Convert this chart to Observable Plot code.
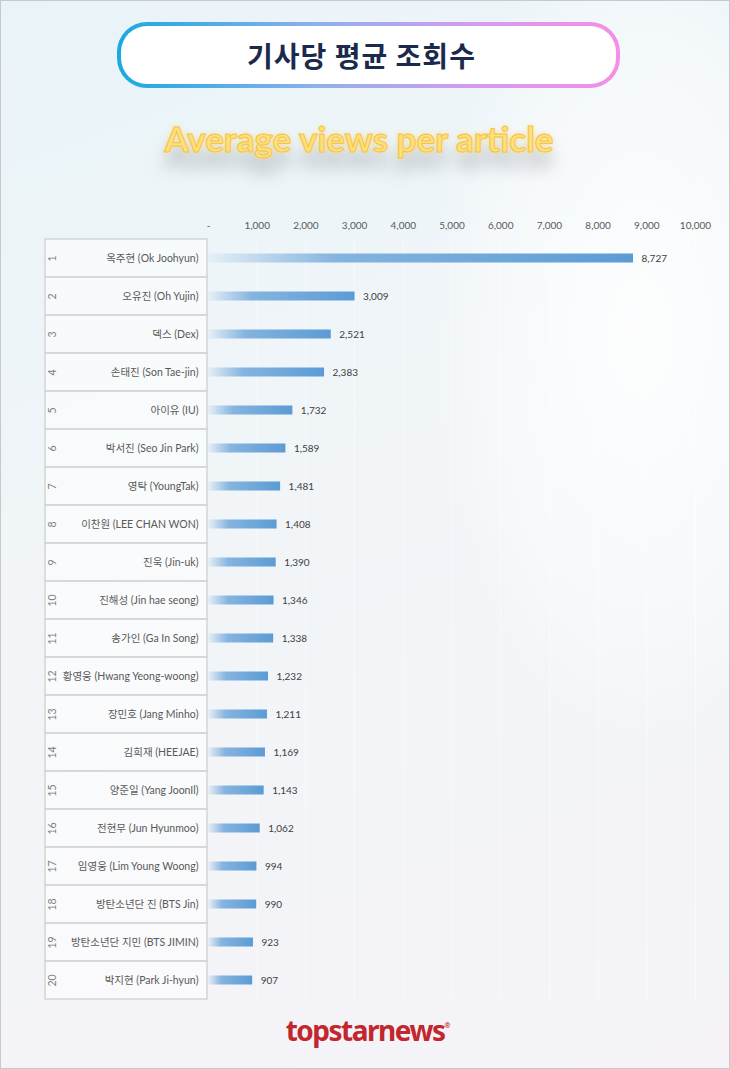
<!DOCTYPE html>
<html>
<head>
<meta charset="utf-8">
<script src="https://cdn.jsdelivr.net/npm/d3@7"></script>
<script src="https://cdn.jsdelivr.net/npm/@observablehq/plot@0.6"></script>
<style>
  html, body { margin: 0; padding: 0; }
  body {
    width: 730px; height: 1069px; position: relative; overflow: hidden;
    background: linear-gradient(160deg, #e9f4f8 0%, #f1f5f8 45%, #f5f3f8 100%);
    font-family: Lato, "Noto Sans CJK KR", sans-serif;
  }
  #frame { position: absolute; left: 0; top: 0; width: 728px; height: 1067px; border: 1px solid #c9c9c9; pointer-events: none; }
  #glow { position: absolute; left: 430px; top: -80px; width: 420px; height: 820px; border-radius: 50%;
    background: radial-gradient(ellipse at center, rgba(255,255,255,0.85) 0%, rgba(255,255,255,0.4) 50%, rgba(255,255,255,0) 72%); }
  #titlebox { position: absolute; left: 117px; top: 22px; width: 503px; height: 66px; border-radius: 30px;
    padding: 4px; box-sizing: border-box;
    background: linear-gradient(90deg, #1aa9e0 0%, #8fb0ec 40%, #d29cf0 70%, #f58ee6 100%); }
  #titlebox div { width: 100%; height: 100%; border-radius: 26px; background: #fff;
    display: flex; align-items: center; justify-content: center; padding-right: 14px; box-sizing: border-box;
    font-family: "Noto Sans CJK KR", sans-serif; font-weight: 700; font-size: 28px; color: #1b2a4c; letter-spacing: 1px; }
  #subtitle { position: absolute; left: 0; width: 718px; top: 117px; text-align: center;
    font-family: Lato, sans-serif; font-weight: 700; font-size: 35px; color: #ffe07a;
    -webkit-text-stroke: 1px #f3c34a;
    text-shadow: 0 0 5px rgba(255,220,120,0.9), 0 16px 16px rgba(60,60,70,0.35); }
  #logo { position: absolute; left: 0; width: 736px; top: 1011px; text-align: center;
    font-family: "Noto Sans", sans-serif; font-weight: 700; font-size: 28px; color: #c1272d; letter-spacing: -1.5px; }
  #logo sup { font-size: 7px; letter-spacing: 0; vertical-align: 13px; }
  #chart { position: absolute; left: 0; top: 200px; }
</style>
</head>
<body>
<div id="glow"></div>
<div id="titlebox"><div>기사당 평균 조회수</div></div>
<div id="subtitle">Average views per article</div>
<div id="chart"></div>
<div id="logo">topstarnews<sup>®</sup></div>
<div id="frame"></div>
<script>
const ranks = [1,2,3,4,5,6,7,8,9,10,11,12,13,14,15,16,17,18,19,20];
const names = [
  "옥주현 (Ok Joohyun)", "오유진 (Oh Yujin)", "덱스 (Dex)", "손태진 (Son Tae-jin)", "아이유 (IU)",
  "박서진 (Seo Jin Park)", "영탁 (YoungTak)", "이찬원 (LEE CHAN WON)", "진욱 (Jin-uk)", "진해성 (Jin hae seong)",
  "송가인 (Ga In Song)", "황영웅 (Hwang Yeong-woong)", "장민호 (Jang Minho)", "김희재 (HEEJAE)", "양준일 (Yang JoonIl)",
  "전현무 (Jun Hyunmoo)", "임영웅 (Lim Young Woong)", "방탄소년단 진 (BTS Jin)", "방탄소년단 지민 (BTS JIMIN)", "박지현 (Park Ji-hyun)"
];
const views = [8727, 3009, 2521, 2383, 1732, 1589, 1481, 1408, 1390, 1346, 1338, 1232, 1211, 1169, 1143, 1062, 994, 990, 923, 907];
const xTicks = [0,1000,2000,3000,4000,5000,6000,7000,8000,9000,10000];
const xTickLabels = ["-","1,000","2,000","3,000","4,000","5,000","6,000","7,000","8,000","9,000","10,000"];

const data = ranks.map((r, i) => ({rank: r, name: names[i], value: views[i]}));
const fmt = d3.format(",");

const plot = Plot.plot({
  width: 730,
  height: 805,
  marginTop: 38,
  marginBottom: 5,
  marginLeft: 208,
  marginRight: 35,
  style: {background: "transparent", fontFamily: "Lato, 'Noto Sans CJK KR', sans-serif"},
  x: {domain: [0, 10000], axis: null, label: null},
  y: {domain: names, padding: 0, axis: null, label: null},
  marks: [
    Plot.gridX(xTicks.slice(1), {stroke: "#ffffff", strokeOpacity: 0.5, strokeWidth: 1}),
    Plot.axisX(xTicks, {anchor: "top", label: null, tickSize: 0, tickPadding: 10, fontSize: 10, fill: "#595959",
      tickFormat: (d) => xTickLabels[xTicks.indexOf(d)]}),
    Plot.barX(data, {x: "value", y: "name", fill: "url(#barGrad)", insetTop: 14.5, insetBottom: 14.5}),
    Plot.text(data, {x: "value", y: "name", text: d => fmt(d.value), textAnchor: "start", dx: 8, fontSize: 10, fill: "#404040"}),
    Plot.text(data, {y: "name", text: "name", frameAnchor: "left", textAnchor: "end", dx: -10, fontSize: 10.5, fill: "#595959"}),
    Plot.text(data, {y: "name", text: d => String(d.rank), frameAnchor: "left", textAnchor: "middle", dx: -156, rotate: -90, fontSize: 10.5, fill: "#7f7f7f"})
  ]
});

// gradient def for bars
const svg = d3.select(plot);
const defs = svg.insert("defs", ":first-child");
const g = defs.append("linearGradient").attr("id", "barGrad").attr("x1", 0).attr("x2", 1).attr("y1", 0).attr("y2", 0);
g.append("stop").attr("offset", "0%").attr("stop-color", "#5b9bd5").attr("stop-opacity", 0.06);
g.append("stop").attr("offset", "30%").attr("stop-color", "#5b9bd5").attr("stop-opacity", 0.72);
g.append("stop").attr("offset", "100%").attr("stop-color", "#5b9bd5").attr("stop-opacity", 1);

// table cells behind labels, positioned with the plot's y scale (apply returns band start)
const y = plot.scale("y");
const bw = y.bandwidth;
const cells = svg.insert("g", "defs + *").attr("class", "table");
names.forEach(n => {
  const top = y.apply(n);
  cells.append("rect").attr("x", 45).attr("y", top).attr("width", 162).attr("height", bw)
    .attr("fill", "#ffffff").attr("fill-opacity", 0.55)
    .attr("stroke", "#d4d4d4").attr("stroke-width", 1.5);
});

document.getElementById("chart").appendChild(plot);
</script>
</body>
</html>
